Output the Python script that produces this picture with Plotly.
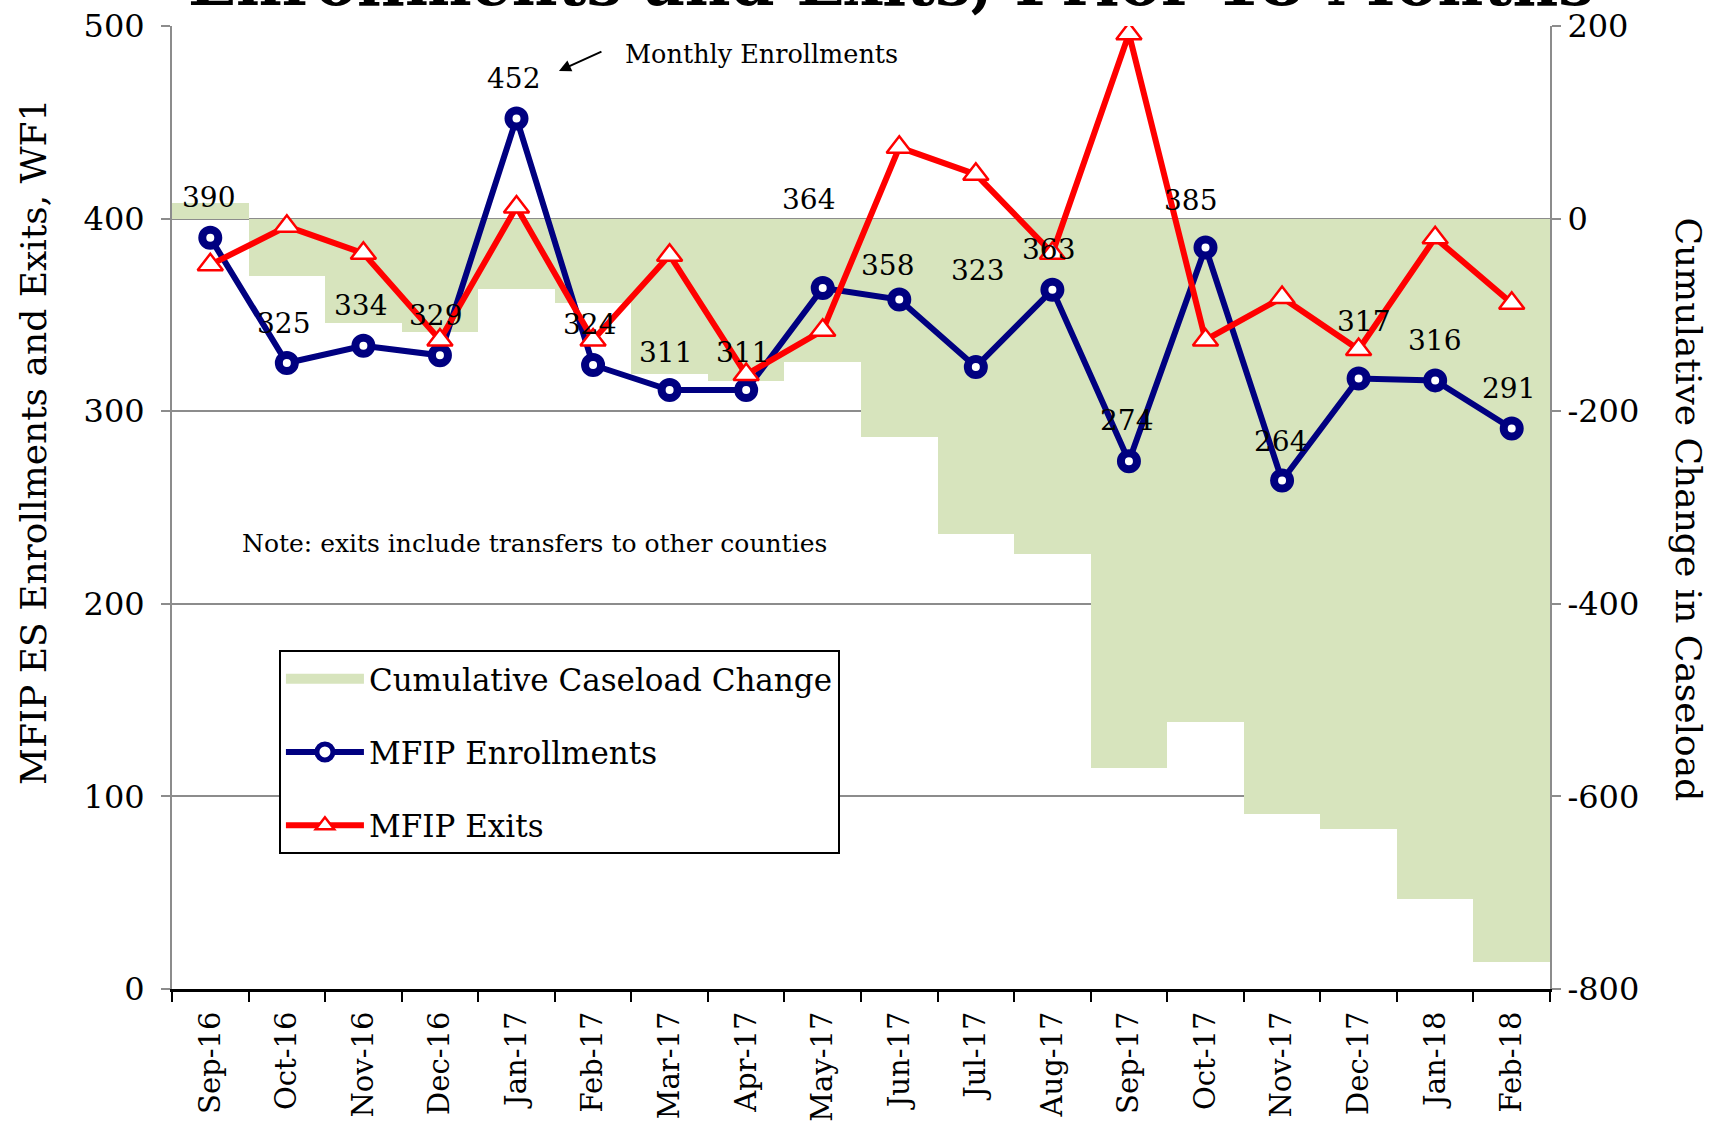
import plotly.graph_objects as go

months = ["Sep-16", "Oct-16", "Nov-16", "Dec-16", "Jan-17", "Feb-17", "Mar-17", "Apr-17",
          "May-17", "Jun-17", "Jul-17", "Aug-17", "Sep-17", "Oct-17", "Nov-17", "Dec-17",
          "Jan-18", "Feb-18"]
enrollments = [390, 325, 334, 329, 452, 324, 311, 311, 364, 358, 323, 363, 274, 385, 264, 317, 316, 291]
exits = [376, 396, 382, 337, 406, 337, 381, 319, 342, 437, 423, 382, 496, 337, 359, 332, 390, 356]
cumulative_change = [16, -60, -108, -118, -73, -88, -161, -169, -149, -227, -328, -348,
                     -570, -523, -618, -634, -707, -772]
left_ticks = [0, 100, 200, 300, 400, 500]
right_ticks = [-800, -600, -400, -200, 0, 200]
right_tick_text = ["-800", "-600", "-400", "-200", "0", "200"]

# pixel offsets of the enrollment value labels relative to their points
label_dx = [-2, -3, -3, -4, -3, -4, -4, -4, -14, -12, 2, -4, -2, -15, -2, 5, -1, -3]
label_dy = [40, 40, 40, 40, 40, 40, 38, 38, 88, 34, 96, 40, 41, 47, 39, 57, 40, 40]

FONT = "DejaVu Serif"
GREEN = "#d7e4bd"
NAVY = "#000080"
RED = "#ff0000"
GRID = "#8c8c8c"

fig = go.Figure()

# bars on the primary (right-hand) axis so the lines on the overlay are drawn above them
fig.add_trace(go.Bar(
    x=months, y=cumulative_change, yaxis="y", width=1,
    marker=dict(color=GREEN, line=dict(width=0)),
    showlegend=False, name="Cumulative Caseload Change"))

# legend swatch for the bar series
fig.add_trace(go.Scatter(
    x=[None], y=[None], yaxis="y", mode="lines", name="Cumulative Caseload Change",
    line=dict(color=GREEN, width=18), legendgroup="a"))

fig.add_trace(go.Scatter(
    x=months, y=enrollments, yaxis="y2", mode="lines+markers", name="MFIP Enrollments",
    line=dict(color=NAVY, width=6),
    marker=dict(symbol="circle", size=16, color="white", line=dict(color=NAVY, width=8)),
    legendgroup="b"))

fig.add_trace(go.Scatter(
    x=months, y=exits, yaxis="y2", mode="lines+markers", name="MFIP Exits",
    line=dict(color=RED, width=6),
    marker=dict(symbol="triangle-up", size=22, color="white", line=dict(color=RED, width=2.5)),
    legendgroup="c"))

annotations = []
for m, v, dx, dy in zip(months, enrollments, label_dx, label_dy):
    annotations.append(dict(
        x=m, y=v, xref="x", yref="y2", text=str(v), showarrow=False,
        xshift=dx, yshift=dy, font=dict(family=FONT, size=28, color="black")))

annotations += [
    dict(text="<b>Enrollments and Exits, Prior 18 Months</b>", xref="paper", yref="paper",
         x=0.522, y=1.0446, xanchor="center", yanchor="middle", showarrow=False,
         font=dict(family=FONT, size=63, color="black")),
    dict(text="MFIP ES Enrollments and Exits, WF1", xref="paper", yref="paper",
         x=-0.1009, y=0.568, xanchor="center", yanchor="middle", showarrow=False,
         textangle=-90, font=dict(family=FONT, size=36, color="black")),
    dict(text="Cumulative Change in Caseload", xref="paper", yref="paper",
         x=1.1009, y=0.498, xanchor="center", yanchor="middle", showarrow=False,
         textangle=90, font=dict(family=FONT, size=36, color="black")),
    dict(text="Monthly Enrollments", xref="paper", yref="paper",
         x=0.4279, y=0.9705, xanchor="center", yanchor="middle", showarrow=False,
         font=dict(family=FONT, size=25.5, color="black")),
    dict(text="", xref="paper", yref="paper", x=0.2808, y=0.9534,
         ax=44, ay=-20, showarrow=True, arrowhead=2, arrowsize=1.2, arrowwidth=2,
         arrowcolor="black"),
    dict(text="Note: exits include transfers to other counties", xref="paper", yref="paper",
         x=0.2634, y=0.463, xanchor="center", yanchor="middle", showarrow=False,
         font=dict(family=FONT, size=25, color="black")),
]

fig.update_layout(
    width=1711, height=1124,
    margin=dict(l=172, r=161, t=26, b=135, pad=0),
    paper_bgcolor="white", plot_bgcolor="white",
    font=dict(family=FONT, color="black"),
    bargap=0,
    xaxis=dict(type="category", range=[-0.5, 17.5], showgrid=False, zeroline=False,
               showline=True, linecolor="black", linewidth=3, automargin=False,
               ticks="outside", tickson="boundaries", ticklen=10, tickwidth=2, tickcolor="black",
               tickangle=-90, tickfont=dict(family=FONT, size=29, color="black"),
               ticklabelstandoff=8),
    yaxis=dict(range=[-800, 200], tickvals=right_ticks, ticktext=right_tick_text, side="right",
               showgrid=False, zeroline=False, showline=True, linecolor=GRID, linewidth=2,
               automargin=False,
               ticks="outside", ticklen=9, tickwidth=2, tickcolor=GRID,
               tickfont=dict(family=FONT, size=32, color="black"), ticklabelstandoff=0),
    yaxis2=dict(range=[0, 500], tickvals=left_ticks, overlaying="y", side="left",
                showgrid=True, gridcolor=GRID, gridwidth=2, automargin=False,
                zeroline=False, showline=True, linecolor=GRID, linewidth=2,
                ticks="outside", ticklen=9, tickwidth=2, tickcolor=GRID,
                tickfont=dict(family=FONT, size=32, color="black"), ticklabelstandoff=10),
    legend=dict(x=0.0776, y=0.352, xanchor="left", yanchor="top",
                font=dict(family=FONT, size=31, color="black"),
                bgcolor="white", bordercolor="black", borderwidth=2,
                tracegroupgap=30, itemwidth=78, traceorder="grouped"),
    annotations=annotations,
    showlegend=True,
)

fig.write_html("out.html", config={"displayModeBar": False},
               post_script="document.body.style.margin='0';document.body.style.overflow='hidden';")
